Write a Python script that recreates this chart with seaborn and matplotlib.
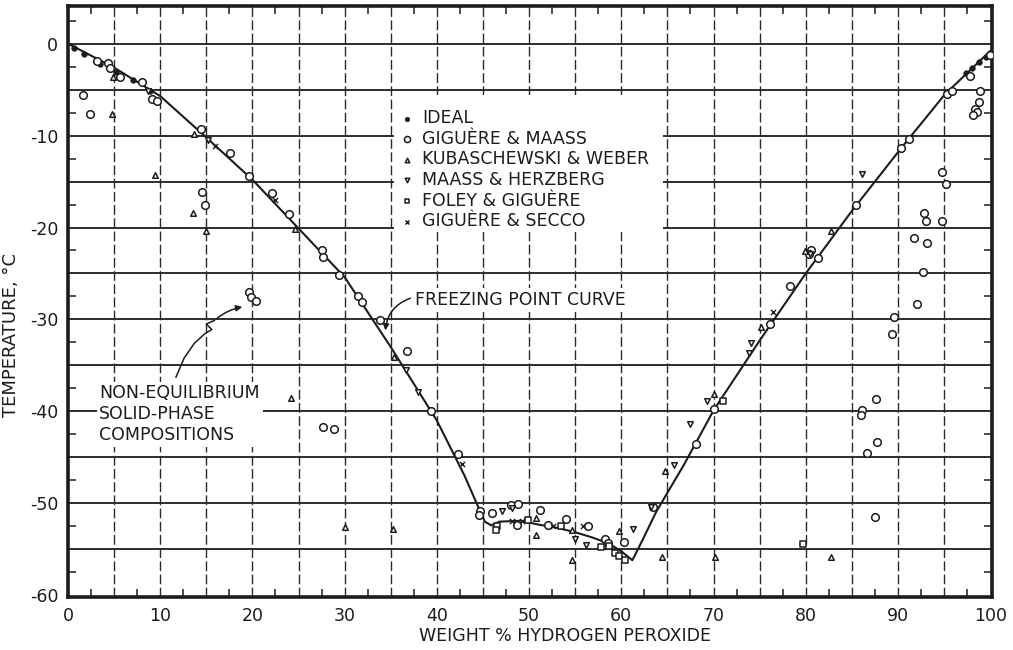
import numpy as np
import pandas as pd
import matplotlib
matplotlib.use("Agg")
import matplotlib.pyplot as plt
from matplotlib.patches import Rectangle
from matplotlib.ticker import MultipleLocator, FixedLocator, FuncFormatter
import seaborn as sns

# Freezing point curve of the H2O2 - H2O system
curve_x = [0, 5, 10, 15, 20, 25, 30, 35, 40, 43, 44.4, 45.2, 45.9, 46.8, 49.1,
           50.9, 52.7, 54.8, 56.8, 58.7, 60.1, 61.2, 62.3, 63.8, 66.8, 70, 75,
           80, 85, 90.4, 95.1, 100]
curve_y = [0, -2.6, -5.7, -10.2, -14.8, -20.1, -25.4, -33.0, -41.0, -47.0, -50.2,
           -52.0, -52.4, -52.0, -51.9, -52.3, -52.6, -53.1, -53.7, -54.4, -55.3,
           -56.2, -54.0, -50.9, -45.8, -39.9, -32.3, -25.0, -18.2, -11.3, -5.5, -0.8]

# Experimental points by source
ideal_x = [0.7, 1.7, 3.5, 5.2, 7.0, 8.9, 97.4, 98.0, 98.8, 99.5, 100.0]
ideal_y = [-0.5, -1.1, -2.2, -3.1, -4.0, -5.1, -3.2, -2.6, -2.0, -1.5, -1.0]

gm_x = [3.1, 4.3, 4.6, 5.6, 8.0, 9.1, 9.7, 14.4, 17.6, 19.6, 22.1, 24.0, 27.5,
        27.7, 29.4, 31.4, 31.9, 33.8, 36.8, 39.4, 42.3,
        1.6, 2.4, 14.5, 14.9, 19.6, 19.8, 20.4, 27.6, 28.9,
        44.7, 44.6, 46.0, 48.0, 48.8, 51.2, 48.7, 52.1, 54.0, 56.4, 58.2, 58.6,
        60.3, 63.4,
        68.1, 70.1, 76.1, 78.3, 80.6, 80.4, 81.3, 85.5, 90.3, 91.2, 95.3, 95.9,
        97.8, 100.0,
        98.9, 98.8, 98.3, 98.6, 98.1, 94.75, 95.2, 92.8, 93.0, 94.75, 91.7, 93.2,
        92.75, 92.1, 89.6, 89.4, 87.6, 86.1, 86.0, 87.7, 86.6, 87.5]
gm_y = [-1.9, -2.1, -2.6, -3.6, -4.2, -6.0, -6.2, -9.3, -11.9, -14.4, -16.3, -18.5,
        -22.5, -23.2, -25.2, -27.4, -28.1, -30.1, -33.4, -40.0, -44.6,
        -5.6, -7.6, -16.1, -17.6, -27.0, -27.6, -28.0, -41.7, -41.9,
        -50.8, -51.3, -51.1, -50.2, -50.1, -50.7, -52.4, -52.4, -51.7, -52.5,
        -53.9, -54.3, -54.2, -50.4,
        -43.5, -39.7, -30.5, -26.4, -22.4, -22.9, -23.3, -17.6, -11.3, -10.4,
        -5.5, -5.2, -3.5, -1.2,
        -5.2, -6.4, -7.1, -7.4, -7.8, -14.0, -15.3, -18.4, -19.3, -19.3, -21.1,
        -21.7, -24.8, -28.3, -29.7, -31.6, -38.7, -39.8, -40.4, -43.3, -44.5, -51.5]

kw_x = [4.8, 9.4, 13.6, 15.0, 13.7, 24.6, 24.2, 30.0, 35.2, 35.3, 50.7, 50.7, 54.6,
        54.7, 59.8, 64.4, 64.7, 70.1, 70.2, 75.1, 79.9, 82.7, 82.7, 4.9]
kw_y = [-7.6, -14.3, -18.4, -20.4, -9.8, -20.2, -38.5, -52.6, -52.8, -34.1, -51.6,
        -53.4, -52.9, -56.2, -53.0, -55.9, -46.5, -38.1, -55.8, -30.8, -22.6,
        -20.4, -55.9, -3.6]

mh_x = [8.7, 15.2, 36.6, 38.0, 47.1, 48.2, 55.0, 56.2, 61.3, 63.2, 65.7, 67.5,
        69.3, 74.1, 73.8, 80.5, 86.1]
mh_y = [-5.1, -10.5, -35.5, -37.9, -50.8, -50.5, -53.9, -54.5, -52.8, -50.4,
        -45.8, -41.4, -38.9, -32.6, -33.7, -22.9, -14.2]

fg_x = [46.5, 46.4, 49.9, 53.5, 57.8, 58.7, 59.3, 59.8, 60.4, 71.0, 79.7]
fg_y = [-52.5, -52.9, -51.8, -52.5, -54.8, -54.7, -55.4, -55.7, -56.2, -38.9, -54.4]

gs_x = [15.9, 22.4, 42.7, 48.1, 49.2, 52.6, 55.8, 76.5]
gs_y = [-11.1, -17.0, -45.7, -51.9, -51.9, -52.5, -52.5, -29.2]

x_ticks = [0, 10, 20, 30, 40, 50, 60, 70, 80, 90, 100]
y_ticks = [0, -10, -20, -30, -40, -50, -60]

sns.set_theme(style="white")
plt.rcParams["font.family"] = ["DejaVu Sans"]
plt.rcParams["axes.unicode_minus"] = False

fig = plt.figure(figsize=(10.13, 6.5), dpi=100)
ax = fig.add_axes([0.0671, 0.0815, 0.9122, 0.9093])
ax.set_xlim(0, 100.2)
ax.set_ylim(-60.2, 4.1)

ink = "#1c1c1c"

# Grid every 5 units; labels only on the multiples of 10
ax.xaxis.set_major_locator(MultipleLocator(5))
ax.yaxis.set_major_locator(MultipleLocator(5))
ax.xaxis.set_major_formatter(FuncFormatter(
    lambda v, p: f"{int(round(v))}" if int(round(v)) in x_ticks else ""))
ax.yaxis.set_major_formatter(FuncFormatter(
    lambda v, p: f"{int(round(v))}" if int(round(v)) in y_ticks else ""))
ax.xaxis.set_minor_locator(FixedLocator(np.arange(2.5, 100, 5)))
ax.yaxis.set_minor_locator(FixedLocator(np.arange(-57.5, 4, 5)))
ax.tick_params(which="major", length=0, labelsize=12.5, colors=ink, pad=7)
ax.tick_params(which="minor", direction="in", length=6, width=1.1, color=ink,
               top=True, right=True, bottom=True, left=True)

for v in np.arange(-55, 1, 5):
    ax.axhline(v, color=ink, lw=1.3, zorder=0.5)
for v in np.arange(5, 100, 5):
    ax.axvline(v, color="#2a2a2a", lw=1.0, ls=(0, (7, 2.5)), zorder=0.5)

for s in ax.spines.values():
    s.set_linewidth(2.6)
    s.set_color(ink)

# Clear area behind the key
ax.add_patch(Rectangle((35.3, -20.5), 29.2, 14.9, facecolor="white",
                       edgecolor="none", zorder=1))

sns.lineplot(x=curve_x, y=curve_y, sort=False, color=ink, lw=1.5, ax=ax,
             zorder=2)

open_kw = dict(facecolor="white", edgecolor=ink, linewidth=1.1, zorder=3)
sns.scatterplot(x=ideal_x, y=ideal_y, marker="o", s=16, color=ink,
                edgecolor=ink, linewidth=0.5, ax=ax, zorder=3, label="IDEAL")
sns.scatterplot(x=gm_x, y=gm_y, marker="o", s=30, ax=ax,
                label="GIGUÈRE & MAASS", **open_kw)
sns.scatterplot(x=kw_x, y=kw_y, marker="^", s=16, ax=ax,
                label="KUBASCHEWSKI & WEBER", **open_kw)
sns.scatterplot(x=mh_x, y=mh_y, marker="v", s=16, ax=ax,
                label="MAASS & HERZBERG", **open_kw)
sns.scatterplot(x=fg_x, y=fg_y, marker="s", s=16, ax=ax,
                label="FOLEY & GIGUÈRE", **open_kw)
sns.scatterplot(x=gs_x, y=gs_y, marker="x", s=14, color=ink, linewidth=1.0,
                ax=ax, zorder=3, label="GIGUÈRE & SECCO")

leg = ax.legend(loc="upper left", bbox_to_anchor=(0.350, 0.840), frameon=False,
                fontsize=12.5, handlelength=0.8, handletextpad=0.45,
                labelspacing=0.15, borderpad=0, markerscale=0.8)
for t in leg.get_texts():
    t.set_color(ink)

# Annotations
label_box = dict(facecolor="white", edgecolor="none", pad=2)
ax.text(37.6, -27.9, "FREEZING POINT CURVE", fontsize=12.5, color=ink,
        ha="left", va="center", zorder=4, bbox=label_box)
ax.annotate("", xy=(34.4, -31.5), xytext=(37.4, -27.6),
            arrowprops=dict(arrowstyle="-|>", color=ink, lw=1.1,
                            mutation_scale=9,
                            connectionstyle="arc3,rad=0.35"), zorder=4)

ax.text(3.4, -40.3, "NON-EQUILIBRIUM\nSOLID-PHASE\nCOMPOSITIONS", fontsize=12.5,
        color=ink, ha="left", va="center", linespacing=1.2, zorder=4,
        bbox=label_box)
ax.plot([11.7, 12.6, 13.7, 14.9, 15.6, 15.0, 15.9],
        [-36.3, -34.2, -32.6, -31.5, -31.1, -30.5, -30.1],
        color=ink, lw=1.1, zorder=4)
ax.annotate("", xy=(19.2, -28.6), xytext=(15.9, -30.1),
            arrowprops=dict(arrowstyle="-|>", color=ink, lw=1.1,
                            mutation_scale=9,
                            connectionstyle="arc3,rad=-0.15"), zorder=4)

ax.set_xlabel("WEIGHT % HYDROGEN PEROXIDE", fontsize=12.5, color=ink)
ax.set_ylabel("TEMPERATURE, °C", fontsize=13, color=ink)
ax.xaxis.set_label_coords(0.538, -0.050)
ax.yaxis.set_label_coords(-0.052, 0.443)

fig.savefig("out.png", dpi=100, facecolor="white")
